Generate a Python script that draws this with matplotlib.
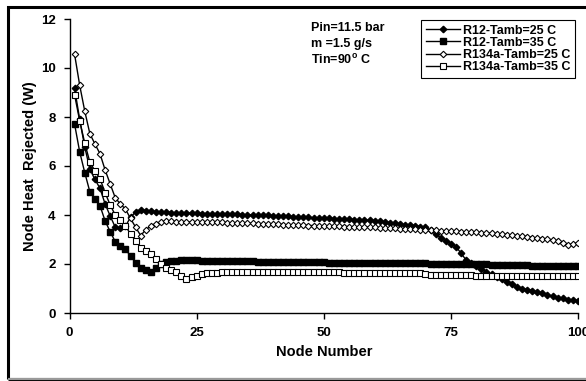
import matplotlib
matplotlib.use("Agg")
import matplotlib.pyplot as plt
from matplotlib.patches import Rectangle

plt.rcParams['font.family'] = ['Liberation Sans', 'DejaVu Sans']
plt.rcParams['font.weight'] = 'bold'
plt.rcParams['mathtext.fontset'] = 'custom'
plt.rcParams['mathtext.rm'] = 'Liberation Sans:bold'
plt.rcParams['mathtext.bf'] = 'Liberation Sans:bold'

nodes = list(range(1, 101))

r12_25 = [9.17, 7.90, 6.78, 5.87, 5.45, 5.09, 4.45, 3.96, 3.50, 3.45,
          3.55, 3.90, 4.13, 4.20, 4.18, 4.15, 4.14, 4.13, 4.12, 4.10,
          4.09, 4.08, 4.08, 4.07, 4.07, 4.06, 4.06, 4.05, 4.05, 4.05,
          4.04, 4.03, 4.03, 4.02, 4.01, 4.00, 4.00, 3.99, 3.98, 3.97,
          3.96, 3.95, 3.94, 3.93, 3.92, 3.91, 3.90, 3.89, 3.88, 3.87,
          3.86, 3.85, 3.84, 3.83, 3.82, 3.81, 3.80, 3.79, 3.78, 3.77,
          3.75, 3.72, 3.69, 3.66, 3.62, 3.60, 3.58, 3.56, 3.53, 3.50,
          3.38, 3.21, 3.08, 2.94, 2.83, 2.71, 2.44, 2.16, 2.04, 1.92,
          1.80, 1.69, 1.58, 1.48, 1.38, 1.28, 1.17, 1.07, 1.00, 0.95,
          0.91, 0.85, 0.80, 0.74, 0.69, 0.63, 0.60, 0.55, 0.52, 0.50]

r12_35 = [7.71, 6.58, 5.73, 4.95, 4.65, 4.38, 3.76, 3.32, 2.91, 2.75,
          2.60, 2.33, 2.05, 1.85, 1.75, 1.69, 1.85, 2.00, 2.10, 2.12,
          2.13, 2.18, 2.18, 2.18, 2.15, 2.13, 2.13, 2.13, 2.12, 2.12,
          2.12, 2.12, 2.11, 2.11, 2.11, 2.11, 2.10, 2.10, 2.10, 2.10,
          2.08, 2.08, 2.08, 2.08, 2.08, 2.07, 2.07, 2.07, 2.07, 2.07,
          2.06, 2.06, 2.06, 2.05, 2.05, 2.05, 2.04, 2.04, 2.03, 2.03,
          2.03, 2.03, 2.03, 2.03, 2.03, 2.03, 2.03, 2.03, 2.03, 2.03,
          2.00, 2.00, 2.00, 2.00, 1.99, 1.99, 1.99, 1.99, 1.98, 1.98,
          1.98, 1.98, 1.97, 1.97, 1.97, 1.95, 1.95, 1.95, 1.94, 1.94,
          1.93, 1.93, 1.93, 1.92, 1.92, 1.91, 1.91, 1.90, 1.90, 1.90]

r134a_25 = [10.56, 9.30, 8.24, 7.32, 6.90, 6.50, 5.84, 5.27, 4.70, 4.45,
            4.24, 3.86, 3.50, 3.16, 3.40, 3.55, 3.65, 3.70, 3.75, 3.76,
            3.72, 3.72, 3.72, 3.71, 3.71, 3.71, 3.70, 3.70, 3.70, 3.70,
            3.68, 3.68, 3.67, 3.67, 3.66, 3.66, 3.65, 3.64, 3.64, 3.63,
            3.62, 3.61, 3.60, 3.60, 3.59, 3.58, 3.57, 3.57, 3.56, 3.55,
            3.55, 3.54, 3.54, 3.53, 3.53, 3.52, 3.52, 3.51, 3.51, 3.50,
            3.48, 3.47, 3.46, 3.45, 3.44, 3.43, 3.42, 3.41, 3.40, 3.40,
            3.38, 3.37, 3.36, 3.35, 3.34, 3.33, 3.32, 3.31, 3.31, 3.30,
            3.28, 3.27, 3.25, 3.24, 3.22, 3.20, 3.18, 3.16, 3.14, 3.12,
            3.08, 3.06, 3.04, 3.01, 2.98, 2.93, 2.86, 2.78, 2.82, 2.87]

r134a_35 = [8.90, 7.85, 6.93, 6.16, 5.80, 5.48, 4.91, 4.41, 4.00, 3.78,
            3.56, 3.22, 2.95, 2.67, 2.55, 2.41, 2.20, 2.00, 1.82, 1.75,
            1.69, 1.51, 1.38, 1.46, 1.52, 1.58, 1.65, 1.65, 1.65, 1.68,
            1.68, 1.68, 1.68, 1.69, 1.69, 1.69, 1.68, 1.67, 1.66, 1.66,
            1.66, 1.66, 1.66, 1.66, 1.66, 1.66, 1.66, 1.66, 1.66, 1.66,
            1.66, 1.66, 1.66, 1.65, 1.64, 1.63, 1.62, 1.62, 1.62, 1.62,
            1.62, 1.62, 1.62, 1.62, 1.62, 1.62, 1.62, 1.62, 1.62, 1.61,
            1.55, 1.55, 1.55, 1.54, 1.54, 1.54, 1.54, 1.54, 1.54, 1.53,
            1.53, 1.53, 1.53, 1.53, 1.53, 1.53, 1.53, 1.53, 1.52, 1.52,
            1.52, 1.52, 1.52, 1.52, 1.52, 1.52, 1.52, 1.52, 1.52, 1.52]

labels = ["R12-Tamb=25 C", "R12-Tamb=35 C", "R134a-Tamb=25 C", "R134a-Tamb=35 C"]
xticks = [0, 25, 50, 75, 100]
yticks = [0, 2, 4, 6, 8, 10, 12]

fig = plt.figure(figsize=(5.86, 3.81), dpi=100)
ax = fig.add_axes([69.5/586, 1-313/381, (578-69.5)/586, (313-19)/381])

ax.plot(nodes, r12_25, color='black', lw=1, marker='D', ms=3.3,
        mfc='black', mec='black', label=labels[0])
ax.plot(nodes, r12_35, color='black', lw=1, marker='s', ms=4.5,
        mfc='black', mec='black', label=labels[1])
ax.plot(nodes, r134a_25, color='black', lw=1, marker='D', ms=3.3,
        mfc='white', mec='black', mew=0.8, label=labels[2])
ax.plot(nodes, r134a_35, color='black', lw=1, marker='s', ms=5,
        mfc='white', mec='black', mew=0.8, label=labels[3])

ax.set_xlim(0, 100)
ax.set_ylim(0, 12)
ax.set_xticks(xticks)
ax.set_yticks(yticks)
ax.spines['top'].set_visible(False)
ax.spines['right'].set_visible(False)
ax.spines['left'].set_linewidth(1)
ax.spines['bottom'].set_linewidth(1)
ax.tick_params(direction='out', length=4, width=1, labelsize=9.5, pad=6)
for t in ax.get_xticklabels() + ax.get_yticklabels():
    t.set_fontweight('bold')

ax.set_xlabel("Node Number", fontsize=10.5, fontweight='bold')
ax.set_ylabel("Node Heat  Rejected (W)", fontsize=10.5, fontweight='bold')
ax.xaxis.set_label_coords(0.5, -0.11)
ax.yaxis.set_label_coords(-0.064, 0.5)

leg = ax.legend(loc='upper right', bbox_to_anchor=(0.995, 0.998), fontsize=9,
                handlelength=2.7, handletextpad=0.25, labelspacing=0.02,
                borderpad=0.4, borderaxespad=0, fancybox=False, framealpha=1)
leg.get_frame().set_edgecolor('black')
leg.get_frame().set_linewidth(0.8)
for t in leg.get_texts():
    t.set_fontweight('bold')

fig.text(311/586, 1-28/381, "Pin=11.5 bar", fontsize=9, fontweight='bold', va='center', ha='left')
fig.text(311/586, 1-44/381, "m =1.5 g/s", fontsize=9, fontweight='bold', va='center', ha='left')
fig.text(311/586, 1-60/381, r"Tin=90$^{\mathrm{o}}$ C", fontsize=9, fontweight='bold', va='center', ha='left')

fig.patches.append(Rectangle((8/586, 2/381), 1, 1-9/381, transform=fig.transFigure,
                             fill=False, edgecolor='black', linewidth=2.2))
fig.patches.append(Rectangle((8/586, 2/381), 1, 0, transform=fig.transFigure,
                             fill=False, edgecolor='#999999', linewidth=1.5))

fig.savefig("out.png", dpi=100)
